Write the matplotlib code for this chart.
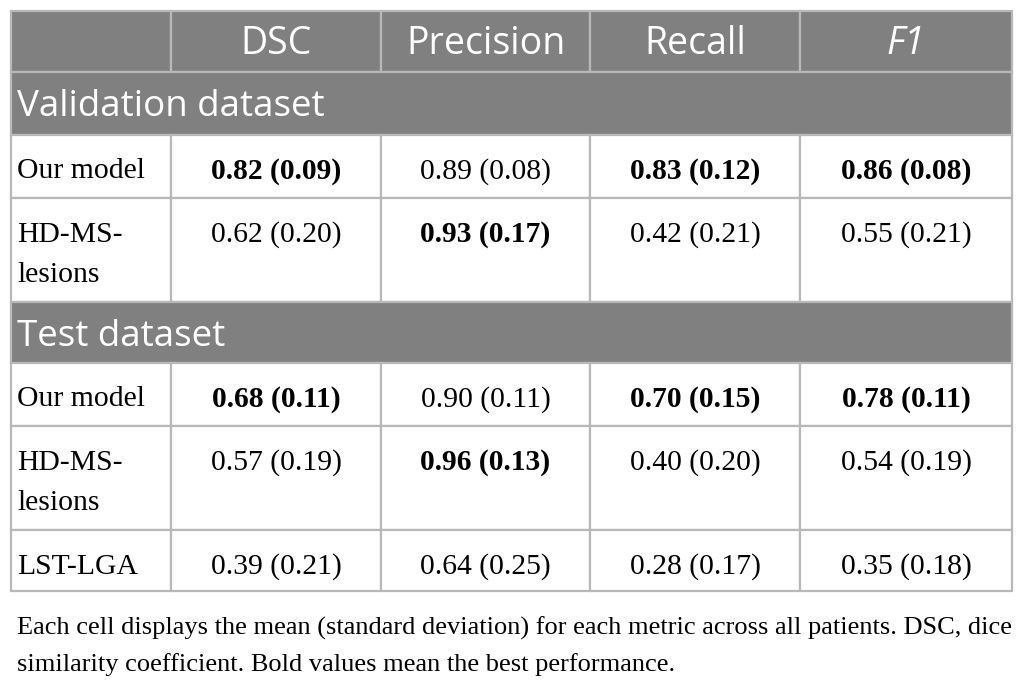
import numpy as np
import matplotlib
matplotlib.use("Agg")
from matplotlib import pyplot as plt
from matplotlib.patches import Rectangle

# table content
columns = ["DSC", "Precision", "Recall", "F1"]
sections = ["Validation dataset", "Test dataset"]
val_models = ["Our model", "HD-MS-\nlesions"]
val_mean = [[0.82, 0.89, 0.83, 0.86], [0.62, 0.93, 0.42, 0.55]]
val_sd = [[0.09, 0.08, 0.12, 0.08], [0.20, 0.17, 0.21, 0.21]]
test_models = ["Our model", "HD-MS-\nlesions", "LST-LGA"]
test_mean = [[0.68, 0.90, 0.70, 0.78], [0.57, 0.96, 0.40, 0.54], [0.39, 0.64, 0.28, 0.35]]
test_sd = [[0.11, 0.11, 0.15, 0.11], [0.19, 0.13, 0.20, 0.19], [0.21, 0.25, 0.17, 0.18]]
caption = ["Each cell displays the mean (standard deviation) for each metric across all patients. DSC, dice",
           "similarity coefficient. Bold values mean the best performance."]

W, H = 1024, 689
fig = plt.figure(figsize=(W / 100, H / 100), dpi=100)
ax = fig.add_axes([0, 0, 1, 1])
ax.set_xlim(0, W)
ax.set_ylim(H, 0)
ax.axis("off")

col_x = [11, 171, 381, 590, 800, 1012]
GRAY = "#808080"
LINE = "#b8b8b8"
SANS = "Open Sans"
SERIF = "Liberation Serif"
BODY = 21.3


def cell(x0, x1, y0, y1, fill):
    ax.add_patch(Rectangle((x0, y0), x1 - x0, y1 - y0, facecolor=fill,
                           edgecolor=LINE, lw=1.6))


# header row
for i in range(5):
    cell(col_x[i], col_x[i + 1], 11, 72, GRAY)
for i, c in enumerate(columns):
    ax.text((col_x[i + 1] + col_x[i + 2]) / 2, 54, c, ha="center", va="baseline",
            color="white", fontsize=27, family=SANS,
            style="italic" if c == "F1" else "normal")

y = 72
blocks = [(val_models, val_mean, val_sd, 63, [63, 104]),
          (test_models, test_mean, test_sd, 61, [63, 104, 61])]
for sec, (models, mean, sd, band, heights) in zip(sections, blocks):
    cell(col_x[0], col_x[-1], y, y + band, GRAY)
    ax.text(17, y + 44, sec, ha="left", va="baseline", color="white",
            fontsize=26.5, family=SANS)
    y += band
    best = np.argmax(np.array(mean), axis=0)
    for r, (name, h) in enumerate(zip(models, heights)):
        for i in range(5):
            cell(col_x[i], col_x[i + 1], y, y + h, "white")
        ty = y + 43.5
        for k, part in enumerate(name.split("\n")):
            ax.text(17, ty + 41 * k, part, ha="left", va="baseline",
                    fontsize=BODY, family=SERIF)
        for c in range(4):
            ax.text((col_x[c + 1] + col_x[c + 2]) / 2, ty,
                    f"{mean[r][c]:.2f} ({sd[r][c]:.2f})", ha="center", va="baseline",
                    fontsize=BODY, family=SERIF,
                    weight="bold" if best[c] == r else "normal")
        y += h

for k, line in enumerate(caption):
    ax.text(17, 635 + 36 * k, line, ha="left", va="baseline", fontsize=19,
            family=SERIF)

fig.savefig("out.png", dpi=100)
